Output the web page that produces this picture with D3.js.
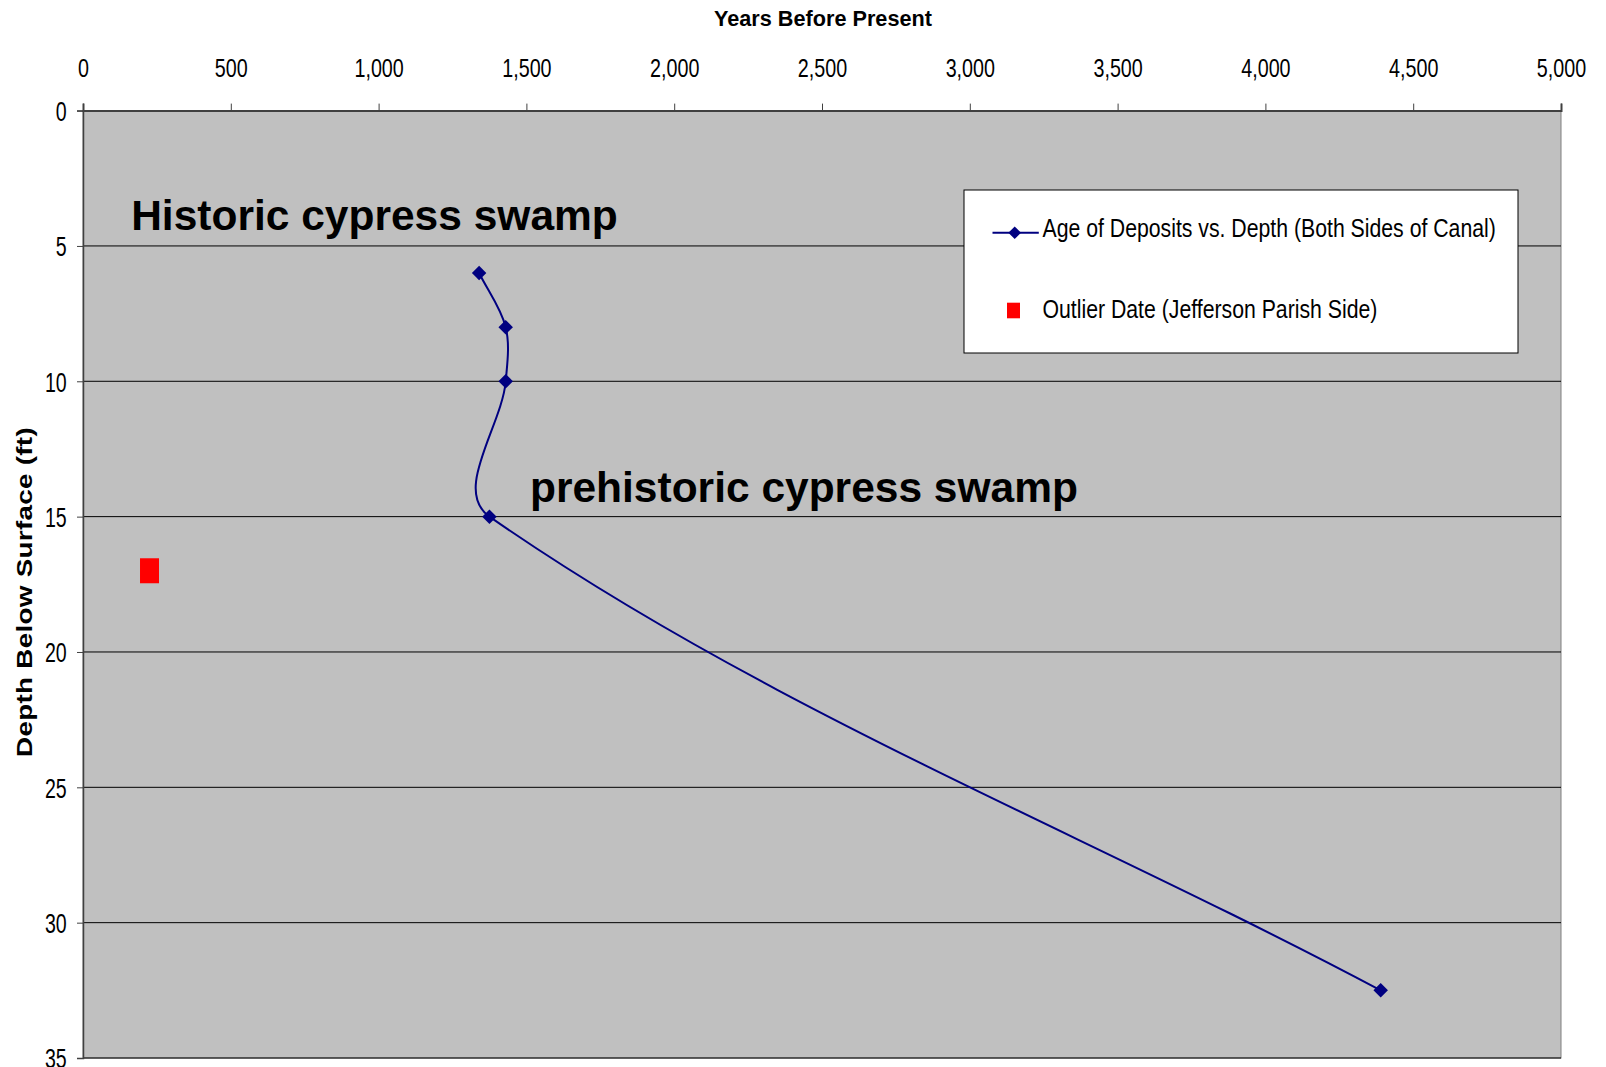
<!DOCTYPE html>
<html>
<head>
<meta charset="utf-8">
<script src="https://cdn.jsdelivr.net/npm/d3@7/dist/d3.min.js"></script>
<style>
  html, body { margin: 0; padding: 0; background: #fff; }
  svg { display: block; font-family: "Liberation Sans", Arial, sans-serif; }
</style>
</head>
<body>
<svg id="chart" width="1606" height="1067"></svg>
<script>
// ---- Data ----
const seriesName = "Age of Deposits vs. Depth (Both Sides of Canal)";
const outlierName = "Outlier Date (Jefferson Parish Side)";
const ageYears = [1340, 1430, 1430, 1375, 4390];
const ageDepths = [6, 8, 10, 15, 32.5];
const outlierYears = [225];
const outlierDepths = [17];
const xTicks = [0, 500, 1000, 1500, 2000, 2500, 3000, 3500, 4000, 4500, 5000];
const yTicks = [0, 5, 10, 15, 20, 25, 30, 35];
const annotations = [
  { text: "Historic cypress swamp", year: 163, depth: 4.42 },
  { text: "prehistoric cypress swamp", year: 1512, depth: 14.45 }
];

(function () {
// ---- Layout ----
const svg = d3.select("#chart");
const pLeft = 83, pRight = 1561, pTop = 110.6, pBottom = 1058;
const x = d3.scaleLinear().domain([0, 5000]).range([pLeft, pRight]);
const y = d3.scaleLinear().domain([0, 35]).range([pTop, pBottom]);

// plot background
svg.append("rect")
  .attr("x", pLeft).attr("y", pTop)
  .attr("width", pRight - pLeft).attr("height", pBottom - pTop)
  .attr("fill", "#c0c0c0")
  .attr("stroke", "#808080").attr("stroke-width", 1);

// horizontal gridlines
svg.append("g").selectAll("line")
  .data(yTicks.filter(d => d > 0))
  .join("line")
  .attr("x1", pLeft).attr("x2", pRight)
  .attr("y1", d => y(d)).attr("y2", d => y(d))
  .attr("stroke", "#000").attr("stroke-width", 1);

// top axis
const gx = svg.append("g").attr("transform", `translate(0,${pTop})`)
  .call(d3.axisTop(x).tickValues(xTicks).tickSize(7).tickFormat(d3.format(",")));
gx.select(".domain").attr("stroke", "#404040").attr("stroke-width", 2);
gx.selectAll(".tick line").attr("stroke", "#404040");
gx.selectAll(".tick text")
  .attr("y", -33.5).attr("dy", 0)
  .attr("fill", "#000")
  .style("font-family", "'Liberation Sans', Arial, sans-serif")
  .style("font-size", "25.6px")
  .attr("transform", "scale(0.77,1)");

// left axis
const gy = svg.append("g").attr("transform", `translate(${pLeft},0)`)
  .call(d3.axisLeft(y).tickValues(yTicks).tickSize(6));
gy.select(".domain").attr("stroke", "#404040").attr("stroke-width", 1.5);
gy.selectAll(".tick line").attr("stroke", "#404040");
gy.selectAll(".tick text")
  .attr("x", -16.3 / 0.7).attr("dy", "0.35em")
  .attr("fill", "#000")
  .style("font-family", "'Liberation Sans', Arial, sans-serif")
  .style("font-size", "28px")
  .attr("transform", "scale(0.7,1)");

// axis titles
svg.append("text")
  .attr("x", 823).attr("y", 26)
  .attr("text-anchor", "middle")
  .style("font-size", "22px").style("font-weight", "bold")
  .attr("transform", "translate(823,0) scale(0.985,1) translate(-823,0)")
  .text("Years Before Present");

svg.append("text")
  .attr("transform", "translate(32,592) rotate(-90) scale(1,0.78)")
  .attr("text-anchor", "middle")
  .style("font-size", "27.8px").style("font-weight", "bold")
  .style("letter-spacing", "0.3px")
  .text("Depth Below Surface (ft)");

// annotations
svg.append("g").selectAll("text")
  .data(annotations)
  .join("text")
  .attr("x", d => x(d.year)).attr("y", d => y(d.depth))
  .style("font-size", "42.5px").style("font-weight", "bold")
  .attr("fill", "#000")
  .text(d => d.text);

// series line: smoothed Bezier (tangent along neighbours, handles 1/3 of each adjacent segment)
const pts = ageYears.map((v, i) => [x(v), y(ageDepths[i])]);
function smoothPath(p) {
  const n = p.length;
  const dist = (a, b) => Math.hypot(b[0] - a[0], b[1] - a[1]);
  const tan = p.map((pt, i) => {
    const a = p[Math.max(0, i - 1)], b = p[Math.min(n - 1, i + 1)];
    const d = dist(a, b) || 1;
    return [(b[0] - a[0]) / d, (b[1] - a[1]) / d];
  });
  const path = d3.path();
  path.moveTo(p[0][0], p[0][1]);
  for (let i = 0; i < n - 1; i++) {
    const L = dist(p[i], p[i + 1]) / 3;
    path.bezierCurveTo(
      p[i][0] + tan[i][0] * L, p[i][1] + tan[i][1] * L,
      p[i + 1][0] - tan[i + 1][0] * L, p[i + 1][1] - tan[i + 1][1] * L,
      p[i + 1][0], p[i + 1][1]);
  }
  return path.toString();
}
svg.append("path")
  .attr("d", smoothPath(pts))
  .attr("fill", "none")
  .attr("stroke", "#000080").attr("stroke-width", 2);

svg.append("g").selectAll("path")
  .data(pts)
  .join("path")
  .attr("transform", d => `translate(${d[0]},${d[1]}) rotate(45)`)
  .attr("d", d3.symbol().type(d3.symbolSquare).size(105)())
  .attr("fill", "#000080");

// outlier
svg.append("g").selectAll("rect")
  .data(outlierYears.map((v, i) => [x(v), y(outlierDepths[i])]))
  .join("rect")
  .attr("x", d => d[0] - 9.5).attr("y", d => d[1] - 12.5)
  .attr("width", 19).attr("height", 25)
  .attr("fill", "#ff0000");

// legend
const lg = svg.append("g");
lg.append("rect")
  .attr("x", 964).attr("y", 190).attr("width", 554).attr("height", 163)
  .attr("fill", "#fff").attr("stroke", "#000").attr("stroke-width", 1);
lg.append("line")
  .attr("x1", 992.5).attr("x2", 1038.8).attr("y1", 232.7).attr("y2", 232.7)
  .attr("stroke", "#000080").attr("stroke-width", 2);
lg.append("path")
  .attr("transform", "translate(1014.7,232.7) rotate(45)")
  .attr("d", d3.symbol().type(d3.symbolSquare).size(80)())
  .attr("fill", "#000080");
lg.append("text")
  .attr("transform", "translate(1042.5,237.3) scale(0.85,1)")
  .style("font-size", "25px")
  .text(seriesName);
lg.append("rect")
  .attr("x", 1007).attr("y", 302.7).attr("width", 13).attr("height", 15.6)
  .attr("fill", "#ff0000");
lg.append("text")
  .attr("transform", "translate(1042.5,317.7) scale(0.85,1)")
  .style("font-size", "25px")
  .text(outlierName);
})();
</script>
</body>
</html>
